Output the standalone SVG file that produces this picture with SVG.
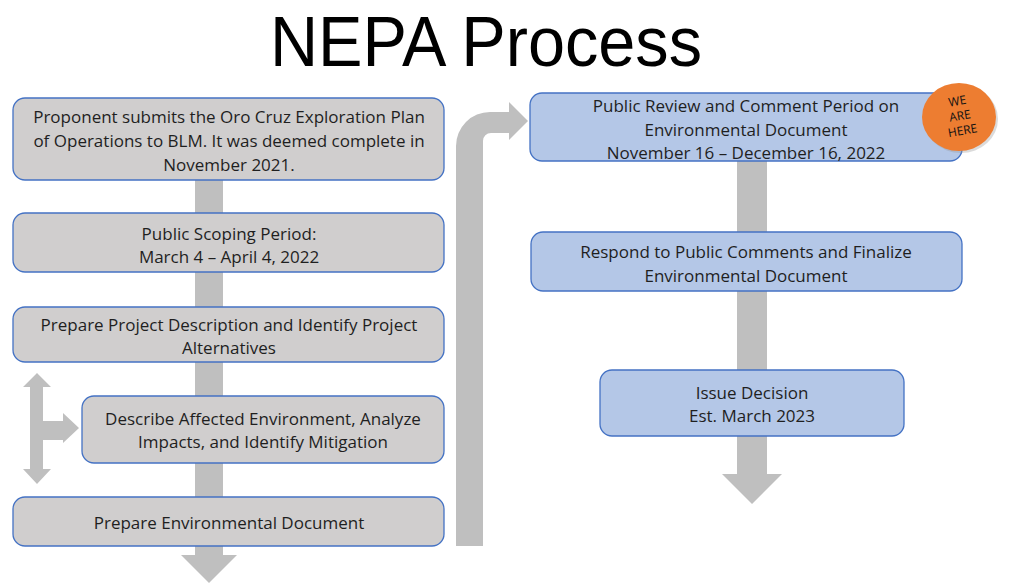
<svg xmlns="http://www.w3.org/2000/svg" width="1012" height="588" viewBox="0 0 1012 588">
<style>
.g{fill:#D0CECE;stroke:#4472C4;stroke-width:1.3}
.b{fill:#B4C7E7;stroke:#4472C4;stroke-width:1.3}
.ar{fill:#BFBFBF}
text{font-family:"Open Sans","Liberation Sans",Arial,sans-serif;font-size:17px;fill:#1F1F1F;text-anchor:middle}
.t{font-family:"Liberation Sans",Arial,sans-serif;font-size:70px;fill:#000}
.h{font-size:12px;fill:#111}
</style>
<rect width="1012" height="588" fill="#fff"/>
<text class="t" x="486" y="66" textLength="432" lengthAdjust="spacingAndGlyphs">NEPA Process</text>
<g id="connectors">
<path class="ar" d="M195,180 H223 V555 H237 L209,583 L181,555 H195 Z"/>
<path class="ar" d="M37,373 L51,387 H43 V421 H63 V413 L79,428 L63,443 V440 H43 V469 H51 L37,484 L23,469 H30 V387 H23 Z"/>
<path class="ar" d="M456,546 V146 A34,34 0 0 1 490,112 H509 V102 L528,121 L509,140 V133 H491 A8,8 0 0 0 483,141 V546 Z"/>
<path class="ar" d="M737,161 H767 V474 H782 L752,504 L722,474 H737 Z"/>
</g>
<g id="n1"><rect class="g" x="13" y="98" width="431" height="82" rx="12"/>
<text x="229" y="123">Proponent submits the Oro Cruz Exploration Plan</text>
<text x="229" y="147">of Operations to BLM. It was deemed complete in</text>
<text x="229" y="171">November 2021.</text></g>
<g id="n2"><rect class="g" x="13" y="213" width="431" height="59" rx="12"/>
<text x="229" y="240">Public Scoping Period:</text>
<text x="229" y="263">March 4 – April 4, 2022</text></g>
<g id="n3"><rect class="g" x="13" y="307" width="431" height="55" rx="12"/>
<text x="229" y="331">Prepare Project Description and Identify Project</text>
<text x="229" y="354">Alternatives</text></g>
<g id="n4"><rect class="g" x="82" y="396" width="362" height="67" rx="12"/>
<text x="263" y="425">Describe Affected Environment, Analyze</text>
<text x="263" y="448">Impacts, and Identify Mitigation</text></g>
<g id="n5"><rect class="g" x="13" y="497" width="431" height="49" rx="12"/>
<text x="229" y="529">Prepare Environmental Document</text></g>
<g id="n6"><rect class="b" x="530" y="93" width="432" height="68" rx="12"/>
<text x="746" y="112">Public Review and Comment Period on</text>
<text x="746" y="136">Environmental Document</text>
<text x="746" y="159">November 16 – December 16, 2022</text></g>
<g id="n7"><rect class="b" x="531" y="232" width="431" height="59" rx="12"/>
<text x="746" y="258">Respond to Public Comments and Finalize</text>
<text x="746" y="282">Environmental Document</text></g>
<g id="n8"><rect class="b" x="600" y="370" width="304" height="66" rx="12"/>
<text x="752" y="399">Issue Decision</text>
<text x="752" y="422">Est. March 2023</text></g>
<g id="badge">
<ellipse cx="961" cy="119" rx="37" ry="34" fill="#999" opacity="0.35"/>
<ellipse cx="959" cy="117" rx="37" ry="34" fill="#ED7D31"/>
<g transform="rotate(-10 960 116)">
<text class="h" x="960" y="105">WE</text>
<text class="h" x="960" y="120">ARE</text>
<text class="h" x="960" y="135">HERE</text>
</g>
</g>
</svg>
